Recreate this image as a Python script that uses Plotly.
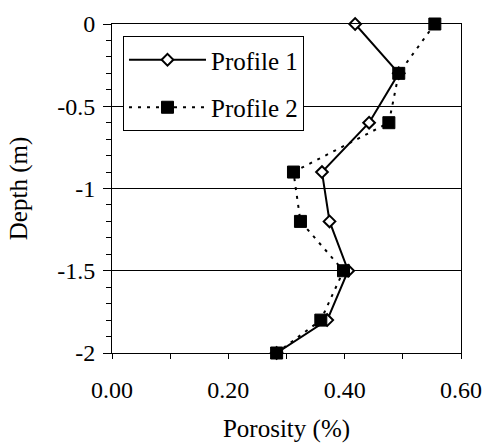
import plotly.graph_objects as go

depth = [0.0, -0.3, -0.6, -0.9, -1.2, -1.5, -1.8, -2.0]
profile1 = [0.418, 0.493, 0.442, 0.361, 0.374, 0.406, 0.370, 0.283]
profile2 = [0.555, 0.493, 0.476, 0.312, 0.324, 0.398, 0.359, 0.283]

x_tickvals = [0.0, 0.2, 0.4, 0.6]
x_ticktext = ["0.00", "0.20", "0.40", "0.60"]
y_tickvals = [0, -0.5, -1, -1.5, -2]
y_ticktext = ["0", "-0.5", "-1", "-1.5", "-2"]

FONT = "Liberation Serif, Times New Roman, serif"
FS_TICK = 24
FS_TITLE = 25

fig = go.Figure()
fig.add_trace(go.Scatter(
    x=profile1, y=depth, name="Profile 1", mode="lines+markers",
    legendgroup="p1",
    line=dict(color="black", width=2),
    marker=dict(symbol="diamond", size=9, color="white", line=dict(color="black", width=2)),
    cliponaxis=False,
))
fig.add_trace(go.Scatter(
    x=profile2, y=depth, name="Profile 2", mode="lines+markers",
    legendgroup="p2",
    line=dict(color="black", width=2, dash="3px,6px"),
    marker=dict(symbol="square", size=12, color="black", line=dict(color="black", width=1)),
    cliponaxis=False,
))

fig.update_layout(
    width=484, height=443,
    margin=dict(l=112, r=23, t=24, b=90),
    paper_bgcolor="white", plot_bgcolor="white",
    font=dict(family=FONT, size=FS_TICK, color="black"),
    showlegend=True,
    legend=dict(
        x=0.0315, y=0.9635, xanchor="left", yanchor="top",
        bgcolor="white", bordercolor="black", borderwidth=1,
        font=dict(family=FONT, size=FS_TITLE, color="black"),
        itemwidth=77, tracegroupgap=12,
    ),
    xaxis=dict(
        range=[0, 0.6], tickvals=x_tickvals, ticktext=x_ticktext,
        showgrid=False, zeroline=False, automargin=False,
        showline=True, linecolor="black", linewidth=1, mirror=True,
        ticks="outside", ticklen=5, tickcolor="black",
        minor=dict(dtick=0.1, ticks="outside", ticklen=5, tickcolor="black", showgrid=False),
        ticklabelstandoff=10,
        title=dict(text="Porosity (%)", standoff=24, font=dict(family=FONT, size=FS_TITLE)),
    ),
    yaxis=dict(
        range=[-2, 0], tickvals=y_tickvals, ticktext=y_ticktext,
        showgrid=True, gridcolor="black", gridwidth=1, zeroline=False, automargin=False,
        showline=True, linecolor="black", linewidth=1, mirror=True,
        ticks="outside", ticklen=8, tickcolor="black",
        minor=dict(dtick=0.1, ticks="outside", ticklen=5, tickcolor="black", showgrid=False),
        ticklabelstandoff=3,
        title=dict(text="Depth (m)", standoff=22, font=dict(family=FONT, size=FS_TITLE)),
    ),
)

fig.write_html("out.html", config={"displayModeBar": False},
               post_script="document.body.style.margin='0';")
